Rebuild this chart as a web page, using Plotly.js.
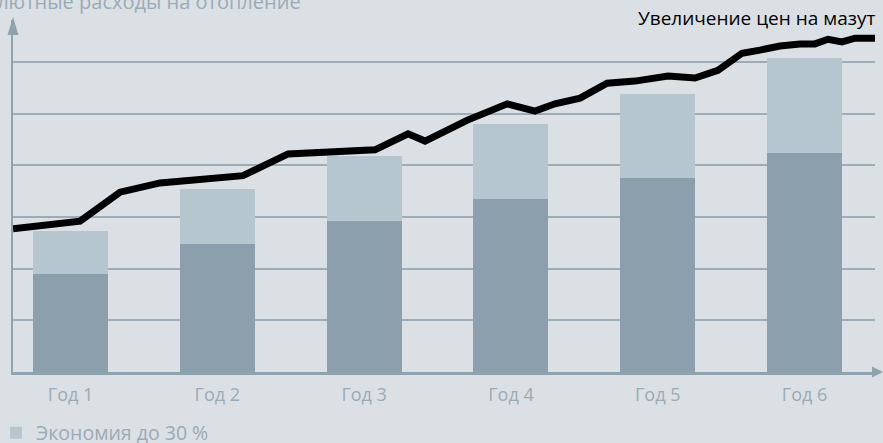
<!DOCTYPE html>
<html>
<head>
<meta charset="utf-8">
<script src="https://cdn.plot.ly/plotly-3.0.1.min.js"></script>
<style>html,body{margin:0;padding:0;background:#dbe0e4;}#chart{width:883px;height:443px;}</style>
</head>
<body>
<div id="chart"></div>
<script>
// ---- data ----
const years = [1, 2, 3, 4, 5, 6];
const yearLabels = ["Год 1", "Год 2", "Год 3", "Год 4", "Год 5", "Год 6"];
const costWithSaving = [1.90, 2.48, 2.92, 3.35, 3.75, 4.24];   // dark part
const saving = [0.83, 1.06, 1.26, 1.45, 1.63, 1.84];          // light part "Экономия до 30 %"
const priceT = [0.608, 1.065, 1.337, 1.610, 2.175, 2.482, 3.074, 3.299, 3.415, 3.70, 3.975, 4.164, 4.300, 4.471, 4.655, 4.845, 5.070, 5.254, 5.410, 5.574, 5.696, 5.833, 5.969, 6.071, 6.160, 6.255, 6.344, 6.480];
const priceV = [2.77, 2.92, 3.48, 3.66, 3.80, 4.22, 4.30, 4.61, 4.47, 4.87, 5.19, 5.05, 5.19, 5.30, 5.59, 5.63, 5.73, 5.69, 5.84, 6.17, 6.23, 6.31, 6.35, 6.35, 6.44, 6.39, 6.46, 6.46];
const titleText = "Абсолютные расходы на отопление";
const lineTitle = "Увеличение цен на мазут";
const legendText = "Экономия до 30 %";

// ---- layout geometry (pixels) ----
const L = 13, R = 875, T = 20, B = 372;
const W = R - L, H = B - T;
const px = x => (x - L) / W;
const py = y => (B - y) / H;

const axisColor = "#8fa3ae";
const gridColor = "#9cadb7";
const darkBar = "#8ba0ac";
const lightBar = "#b6c6ce";
const textGray = "#9aabb6";
const font = "Open Sans, sans-serif";

const traces = [
  {type: "bar", x: years, y: costWithSaving, width: 0.511, marker: {color: darkBar, line: {width: 0}}, showlegend: false, hoverinfo: "skip"},
  {type: "bar", x: years, y: saving, width: 0.511, name: legendText, marker: {color: lightBar, line: {width: 0}}, showlegend: true, hoverinfo: "skip"},
  {type: "scatter", mode: "lines", x: priceT, y: priceV, line: {color: "#000000", width: 7, simplify: false}, showlegend: false, hoverinfo: "skip"}
];

const layout = {
  width: 883, height: 443,
  margin: {l: L, r: 883 - R, t: T, b: 443 - B, autoexpand: false},
  paper_bgcolor: "#dbe0e4", plot_bgcolor: "#dbe0e4",
  barmode: "stack",
  font: {family: font, size: 18, color: textGray},
  xaxis: {
    range: [0.608, 6.48], tickmode: "array", tickvals: years, ticktext: yearLabels,
    showgrid: false, zeroline: false, showline: true, linecolor: axisColor, linewidth: 2.5,
    ticks: "", tickfont: {family: font, size: 18, color: textGray}, ticklabelstandoff: 5, fixedrange: true
  },
  yaxis: {
    range: [0, H / 51.67], dtick: 1, tick0: 0, showticklabels: false, ticks: "",
    showgrid: true, gridcolor: gridColor, gridwidth: 2, zeroline: false,
    showline: true, linecolor: axisColor, linewidth: 2.5, fixedrange: true
  },
  showlegend: true,
  legend: {x: px(-4), y: py(433), xanchor: "left", yanchor: "middle", orientation: "h",
           bgcolor: "rgba(0,0,0,0)", borderwidth: 0, itemwidth: 30,
           font: {family: font, size: 19.5, color: textGray}},
  annotations: [
    {xref: "paper", yref: "paper", x: px(877), y: py(17.5), xanchor: "right", yanchor: "middle",
     text: lineTitle, showarrow: false, font: {family: font, size: 19, color: "#000000"}},
    {xref: "paper", yref: "paper", x: px(303), y: py(1), xanchor: "right", yanchor: "middle",
     text: titleText, showarrow: false, font: {family: font, size: 20, color: textGray}}
  ],
  shapes: [
    {type: "path", xref: "paper", yref: "paper", fillcolor: axisColor, line: {width: 0},
     path: `M${px(13)},${py(17)} L${px(18.5)},${py(35)} L${px(7.5)},${py(35)} Z`},
    {type: "path", xref: "paper", yref: "paper", fillcolor: axisColor, line: {width: 0},
     path: `M${px(883)},${py(372)} L${px(872)},${py(366.5)} L${px(872)},${py(377.5)} Z`}
  ]
};

Plotly.newPlot("chart", traces, layout, {displayModeBar: false, staticPlot: true});
</script>
</body>
</html>
